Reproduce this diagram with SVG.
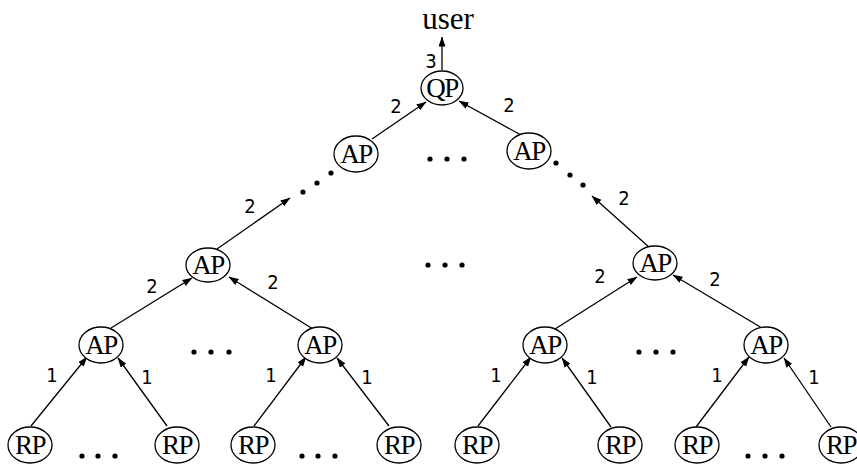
<svg xmlns="http://www.w3.org/2000/svg" width="857" height="464" viewBox="0 0 857 464">
<defs>
<marker id="ah" markerUnits="userSpaceOnUse" markerWidth="10" markerHeight="8" refX="9.5" refY="3.5" orient="auto">
<path d="M0,0 L10,3.5 L0,7 z" fill="#000"/>
</marker>
<style>
.n ellipse{fill:#fff;stroke:#000;stroke-width:1.3}
.n text{font-family:"Liberation Serif","Times New Roman",serif;font-size:27px;text-anchor:middle;letter-spacing:-1.5px}
.e line{stroke:#000;stroke-width:1.3;marker-end:url(#ah)}
.lbl{font-family:"Liberation Sans Narrow","DejaVu Sans Condensed","Liberation Sans",sans-serif;font-size:20px;text-anchor:middle}
.d circle{fill:#000}
</style>
</defs>
<rect width="857" height="464" fill="#fff"/>
<text x="448" y="29" font-family="Liberation Serif, Times New Roman, serif" font-size="31" text-anchor="middle">user</text>
<g id="connectors" class="e">
<line x1="442" y1="70" x2="442" y2="37"/>
<line x1="372" y1="139" x2="426" y2="102"/>
<line x1="521" y1="135" x2="459" y2="101"/>
<line x1="217" y1="249" x2="290" y2="198"/>
<line x1="650" y1="248" x2="592" y2="196"/>
<line x1="111" y1="328" x2="192" y2="278"/>
<line x1="313" y1="329" x2="229" y2="277"/>
<line x1="555" y1="329" x2="637" y2="277"/>
<line x1="762" y1="328" x2="673" y2="275"/>
<line x1="31" y1="426" x2="87" y2="357"/>
<line x1="167" y1="426" x2="118" y2="358"/>
<line x1="254" y1="426" x2="306" y2="357"/>
<line x1="389" y1="426" x2="337" y2="358"/>
<line x1="478" y1="426" x2="531" y2="357"/>
<line x1="611" y1="427" x2="562" y2="358"/>
<line x1="696" y1="427" x2="749" y2="357"/>
<line x1="831" y1="427" x2="784" y2="358"/>
</g>
<g id="labels" class="lbl">
<text x="431" y="68">3</text>
<text x="396" y="113">2</text>
<text x="509" y="112">2</text>
<text x="250" y="213">2</text>
<text x="624" y="205">2</text>
<text x="152" y="293">2</text>
<text x="273" y="289">2</text>
<text x="600" y="283">2</text>
<text x="715" y="286">2</text>
<text x="52" y="382">1</text>
<text x="147" y="384">1</text>
<text x="271" y="382">1</text>
<text x="367" y="384">1</text>
<text x="496" y="382">1</text>
<text x="592" y="384">1</text>
<text x="717" y="382">1</text>
<text x="814" y="384">1</text>
</g>
<g id="dots" class="d">
<circle cx="430" cy="159" r="2.6"/><circle cx="447" cy="159" r="2.6"/><circle cx="464" cy="159" r="2.6"/>
<circle cx="303" cy="192" r="2.6"/><circle cx="317" cy="183" r="2.6"/><circle cx="331" cy="173" r="2.6"/>
<circle cx="556" cy="163" r="2.6"/><circle cx="570" cy="175" r="2.6"/><circle cx="583" cy="185" r="2.6"/>
<circle cx="428" cy="265" r="2.6"/><circle cx="445" cy="265" r="2.6"/><circle cx="462" cy="265" r="2.6"/>
<circle cx="194" cy="352" r="2.6"/><circle cx="211" cy="352" r="2.6"/><circle cx="229" cy="352" r="2.6"/>
<circle cx="639" cy="352" r="2.6"/><circle cx="656" cy="352" r="2.6"/><circle cx="673" cy="352" r="2.6"/>
<circle cx="82" cy="456" r="2.6"/><circle cx="98" cy="456" r="2.6"/><circle cx="115" cy="456" r="2.6"/>
<circle cx="302" cy="456" r="2.6"/><circle cx="318" cy="456" r="2.6"/><circle cx="335" cy="456" r="2.6"/>
<circle cx="748" cy="456" r="2.6"/><circle cx="765" cy="456" r="2.6"/><circle cx="782" cy="456" r="2.6"/>
</g>
<g id="QP" class="n"><ellipse cx="442" cy="88" rx="21" ry="17"/><text x="442" y="97">QP</text></g>
<g id="AP1L" class="n"><ellipse cx="356" cy="154" rx="22" ry="18"/><text x="356" y="163">AP</text></g>
<g id="AP1R" class="n"><ellipse cx="529" cy="151" rx="22" ry="18"/><text x="529" y="160">AP</text></g>
<g id="AP2L" class="n"><ellipse cx="208" cy="265" rx="22" ry="17"/><text x="208" y="274">AP</text></g>
<g id="AP2R" class="n"><ellipse cx="655" cy="263" rx="22" ry="17"/><text x="655" y="272">AP</text></g>
<g id="AP3a" class="n"><ellipse cx="101" cy="345" rx="22" ry="18"/><text x="101" y="354">AP</text></g>
<g id="AP3b" class="n"><ellipse cx="320" cy="345" rx="22" ry="18"/><text x="320" y="354">AP</text></g>
<g id="AP3c" class="n"><ellipse cx="545" cy="345" rx="22" ry="18"/><text x="545" y="354">AP</text></g>
<g id="AP3d" class="n"><ellipse cx="766" cy="345" rx="22" ry="18"/><text x="766" y="354">AP</text></g>
<g id="RP1" class="n"><ellipse cx="30" cy="445" rx="22" ry="18"/><text x="30" y="454">RP</text></g>
<g id="RP2" class="n"><ellipse cx="177" cy="445" rx="22" ry="18"/><text x="177" y="454">RP</text></g>
<g id="RP3" class="n"><ellipse cx="253" cy="445" rx="22" ry="18"/><text x="253" y="454">RP</text></g>
<g id="RP4" class="n"><ellipse cx="399" cy="445" rx="22" ry="18"/><text x="399" y="454">RP</text></g>
<g id="RP5" class="n"><ellipse cx="477" cy="445" rx="22" ry="18"/><text x="477" y="454">RP</text></g>
<g id="RP6" class="n"><ellipse cx="620" cy="445" rx="22" ry="18"/><text x="620" y="454">RP</text></g>
<g id="RP7" class="n"><ellipse cx="697" cy="445" rx="22" ry="18"/><text x="697" y="454">RP</text></g>
<g id="RP8" class="n"><ellipse cx="841" cy="445" rx="22" ry="18"/><text x="841" y="454">RP</text></g>
</svg>
